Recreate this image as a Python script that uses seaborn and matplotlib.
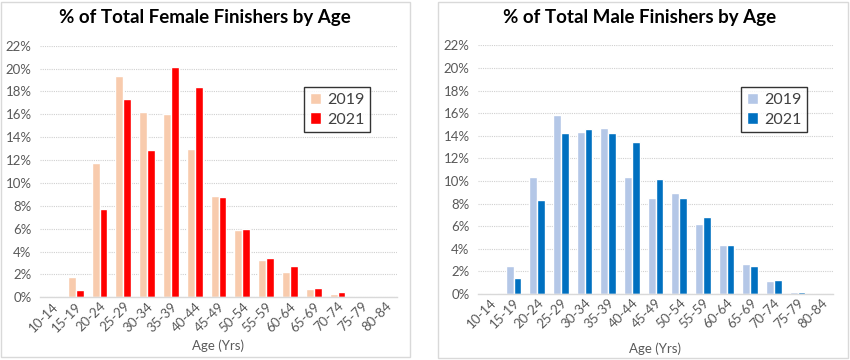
import matplotlib
matplotlib.use("Agg")
import matplotlib.pyplot as plt
from matplotlib.patches import Rectangle
from matplotlib.ticker import FuncFormatter, MultipleLocator
import seaborn as sns
import pandas as pd

ages = ["10-14", "15-19", "20-24", "25-29", "30-34", "35-39", "40-44", "45-49",
        "50-54", "55-59", "60-64", "65-69", "70-74", "75-79", "80-84"]
female_2019 = [0.0, 1.8, 11.7, 19.35, 16.2, 16.05, 13.0, 8.9, 5.85, 3.3, 2.2, 0.7, 0.3, 0.0, 0.0]
female_2021 = [0.0, 0.65, 7.7, 17.3, 12.9, 20.15, 18.4, 8.8, 6.0, 3.45, 2.75, 0.85, 0.45, 0.0, 0.0]
male_2019 = [0.05, 2.5, 10.35, 15.85, 14.35, 14.65, 10.35, 8.5, 8.9, 6.2, 4.33, 2.62, 1.12, 0.18, 0.0]
male_2021 = [0.1, 1.42, 8.35, 14.22, 14.6, 14.22, 13.48, 10.15, 8.47, 6.78, 4.33, 2.45, 1.27, 0.2, 0.0]
years = ["2019", "2021"]

female_colors = ["#F8CBAD", "#FF0000"]
male_colors = ["#B4C7E7", "#0070C0"]

sns.set_theme(style="white")
plt.rcParams["font.family"] = ["Lato", "DejaVu Sans"]

fig = plt.figure(figsize=(8.5, 3.6), dpi=100)

def make_df(v19, v21):
    return pd.DataFrame({
        "age": ages * 2,
        "pct": list(v19) + list(v21),
        "year": [years[0]] * len(ages) + [years[1]] * len(ages),
    })

def draw(ax, df, colors, title, title_x, label_x, label_y, leg_anchor):
    sns.barplot(data=df, x="age", y="pct", hue="year", palette=colors,
                width=0.67, gap=0, saturation=1, ax=ax, errorbar=None)
    ax.set_ylim(0, 22)
    ax.set_xlim(-0.5, len(ages) - 0.5)
    ax.yaxis.set_major_locator(MultipleLocator(2))
    ax.yaxis.set_major_formatter(FuncFormatter(lambda v, p: f"{v:.0f}%"))
    ax.grid(axis="y", color="#D0D0D0", linestyle=(0, (1, 1)), linewidth=0.8)
    ax.set_axisbelow(True)
    for s in ["top", "right", "left"]:
        ax.spines[s].set_visible(False)
    ax.spines["bottom"].set_color("#D9D9D9")
    ax.spines["bottom"].set_linewidth(1)
    ax.tick_params(axis="y", length=0, labelsize=9.5, colors="#595959", pad=6)
    ax.tick_params(axis="x", length=0, labelsize=9.5, colors="#595959", pad=2)
    plt.setp(ax.get_xticklabels(), rotation=45, ha="right", rotation_mode="anchor")
    ax.set_xlabel("")
    ax.set_ylabel("")
    fig.text(label_x, label_y, "Age (Yrs)", ha="center", va="center",
             fontsize=9.5, color="#595959")
    fig.text(title_x, 1 - 18 / 360, title, ha="center", va="center",
             fontsize=13.5, fontweight="bold", color="#000000")
    leg = ax.legend(loc="upper left", bbox_to_anchor=leg_anchor,
                    bbox_transform=fig.transFigure,
                    frameon=True, fancybox=False, fontsize=11.5,
                    handlelength=0.7, handleheight=0.7, handletextpad=0.4,
                    borderpad=0.35, labelspacing=0.35, borderaxespad=0)
    leg.get_frame().set_edgecolor("#000000")
    leg.get_frame().set_linewidth(1.0)
    for t in leg.get_texts():
        t.set_color("#404040")

ax1 = fig.add_axes([40 / 850, 1 - 297.3 / 360, 357 / 850, 251.6 / 360])
ax2 = fig.add_axes([478 / 850, 1 - 294 / 360, 355 / 850, 248.7 / 360])

draw(ax1, make_df(female_2019, female_2021), female_colors,
     "% of Total Female Finishers by Age", 205 / 850, 218 / 850, 1 - 346 / 360,
     (304 / 850, 1 - 87 / 360))
draw(ax2, make_df(male_2019, male_2021), male_colors,
     "% of Total Male Finishers by Age", 640 / 850, 655 / 850, 1 - 349 / 360,
     (741 / 850, 1 - 87 / 360))

fig.add_artist(Rectangle((1 / 850, 1 - 357 / 360), 409 / 850, 355 / 360,
                         transform=fig.transFigure, fill=False,
                         edgecolor="#D9D9D9", linewidth=1))
fig.add_artist(Rectangle((438 / 850, 1 - 358 / 360), 410 / 850, 356 / 360,
                         transform=fig.transFigure, fill=False,
                         edgecolor="#D9D9D9", linewidth=1))

fig.savefig("out.png", dpi=100)
